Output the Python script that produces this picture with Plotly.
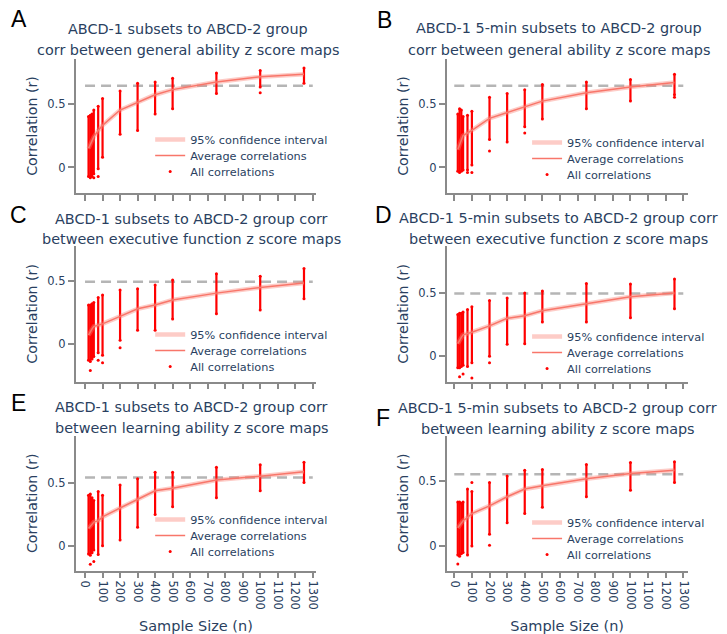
import plotly.graph_objects as go

W, H = 727, 634

# ---------------- data ----------------
sample_sizes = [20, 30, 40, 50, 75, 100, 200, 300, 400, 500, 750, 1000, 1250]
x_tick_vals = list(range(0, 1301, 100))
y_tick_vals = [0, 0.5]

panel_letters = ["A", "B", "C", "D", "E", "F"]
title_line1 = [
    "ABCD-1 subsets to ABCD-2 group",
    "ABCD-1 5-min subsets to ABCD-2 group",
    "ABCD-1 subsets to ABCD-2 group corr",
    "ABCD-1 5-min subsets to ABCD-2 group corr",
    "ABCD-1 subsets to ABCD-2 group corr",
    "ABCD-1 5-min subsets to ABCD-2 group corr",
]
title_line2 = [
    "corr between general ability z score maps",
    "corr between general ability z score maps",
    "between executive function z score maps",
    "between executive function z score maps",
    "between learning ability z score maps",
    "between learning ability z score maps",
]
legend_names = ["95% confidence interval", "Average correlations", "All correlations"]
y_title = "Correlation (r)"
x_title = "Sample Size (n)"

# Panel A
A_mean = [0.15, 0.18, 0.21, 0.24, 0.29, 0.33, 0.45, 0.51, 0.57, 0.61, 0.67, 0.71, 0.73]
A_hi = [0.40, 0.41, 0.42, 0.45, 0.48, 0.54, 0.60, 0.66, 0.67, 0.70, 0.74, 0.76, 0.78]
A_lo = [-0.07, -0.08, -0.07, -0.05, -0.01, 0.08, 0.26, 0.29, 0.42, 0.46, 0.58, 0.63, 0.66]
A_out_n = [75, 50, 1000]
A_out_r = [-0.07, -0.08, 0.585]
A_ref = 0.64

# Panel B
B_mean = [0.14, 0.18, 0.22, 0.25, 0.27, 0.29, 0.385, 0.43, 0.475, 0.52, 0.585, 0.63, 0.665]
B_hi = [0.42, 0.46, 0.45, 0.40, 0.41, 0.44, 0.55, 0.58, 0.61, 0.65, 0.67, 0.69, 0.73]
B_lo = [-0.03, -0.04, -0.03, -0.02, -0.02, 0.02, 0.22, 0.20, 0.32, 0.38, 0.46, 0.52, 0.57]
B_out_n = [200, 100, 400, 1250, 75]
B_out_r = [0.13, -0.04, 0.27, 0.55, -0.04]
B_ref = 0.64

# Panel C
C_mean = [0.07, 0.10, 0.12, 0.14, 0.15, 0.16, 0.22, 0.28, 0.31, 0.35, 0.405, 0.45, 0.485]
C_hi = [0.31, 0.31, 0.32, 0.33, 0.37, 0.39, 0.43, 0.44, 0.47, 0.51, 0.56, 0.54, 0.60]
C_lo = [-0.13, -0.14, -0.12, -0.10, -0.07, -0.09, 0.03, 0.11, 0.11, 0.20, 0.24, 0.27, 0.36]
C_out_n = [30, 75, 100, 200]
C_out_r = [-0.21, -0.13, -0.15, -0.03]
C_ref = 0.495

# Panel D
D_mean = [0.10, 0.13, 0.15, 0.17, 0.18, 0.19, 0.24, 0.30, 0.32, 0.36, 0.415, 0.47, 0.50]
D_hi = [0.33, 0.34, 0.34, 0.35, 0.37, 0.39, 0.44, 0.46, 0.50, 0.515, 0.575, 0.57, 0.61]
D_lo = [-0.09, -0.09, -0.08, -0.07, -0.08, -0.05, 0.00, 0.095, 0.10, 0.27, 0.27, 0.305, 0.375]
D_out_n = [30, 100, 200, 50]
D_out_r = [-0.16, -0.17, -0.05, -0.14]
D_ref = 0.495

# Panel E
E_mean = [0.14, 0.16, 0.18, 0.19, 0.20, 0.23, 0.30, 0.37, 0.435, 0.455, 0.52, 0.55, 0.585]
E_hi = [0.40, 0.41, 0.38, 0.36, 0.43, 0.40, 0.48, 0.53, 0.58, 0.58, 0.62, 0.64, 0.66]
E_lo = [-0.06, -0.07, -0.05, -0.03, -0.065, 0.005, 0.05, 0.15, 0.25, 0.31, 0.38, 0.435, 0.50]
E_out_n = [30, 50]
E_out_r = [-0.14, -0.12]
E_ref = 0.54

# Panel F
F_mean = [0.14, 0.16, 0.18, 0.195, 0.22, 0.25, 0.31, 0.38, 0.44, 0.465, 0.52, 0.56, 0.585]
F_hi = [0.34, 0.34, 0.33, 0.34, 0.44, 0.42, 0.49, 0.54, 0.585, 0.59, 0.63, 0.645, 0.65]
F_lo = [-0.07, -0.08, -0.06, -0.05, -0.07, 0.00, 0.09, 0.18, 0.25, 0.30, 0.38, 0.43, 0.49]
F_out_n = [20, 100, 200]
F_out_r = [-0.14, 0.49, 0.005]
F_ref = 0.555

panels = [
    (A_mean, A_hi, A_lo, A_out_n, A_out_r, A_ref),
    (B_mean, B_hi, B_lo, B_out_n, B_out_r, B_ref),
    (C_mean, C_hi, C_lo, C_out_n, C_out_r, C_ref),
    (D_mean, D_hi, D_lo, D_out_n, D_out_r, D_ref),
    (E_mean, E_hi, E_lo, E_out_n, E_out_r, E_ref),
    (F_mean, F_hi, F_lo, F_out_n, F_out_r, F_ref),
]

# ---------------- layout geometry (pixels) ----------------
col_px = [(76, 318), (449, 691.5)]
row_px = [(59, 193), (246, 381.7), (436, 570.5)]
x_ranges = [[-54, 1320], [-44, 1325]]
y_ranges = [[-0.2, 0.85], [-0.2, 0.85], [-0.3, 0.78], [-0.2, 0.87], [-0.19, 0.865], [-0.19, 0.85]]
title_pos = [(189, 29, 50), (562, 28, 50), (193, 219, 239), (561.5, 218, 239), (193, 407, 428), (561, 408, 429)]
letter_pos = [(19, 19), (387, 20), (19, 215), (386, 215), (19, 403), (385, 418)]
legend_pos = [(191, 140), (570, 143), (191, 335), (570, 337), (191, 520), (570, 523)]
LEG_STEP = 16


def px_x(p):
    return p / W


def px_y(p):
    return 1 - p / H


FONT = "DejaVu Sans"
TXT = "#2a3f5f"
AX = "#8a8a8a"
RED = "#ff0000"

fig = go.Figure()
layout = dict(
    width=W, height=H, margin=dict(l=0, r=0, t=0, b=0),
    paper_bgcolor="white", plot_bgcolor="white",
    font=dict(family=FONT, color=TXT),
    showlegend=True,
)
annotations = []

for i, (mean, hi, lo, out_n, out_r, ref) in enumerate(panels):
    r, c = divmod(i, 2)
    k = "" if i == 0 else str(i + 1)
    xa, ya = "x" + k, "y" + k

    x0p, x1p = col_px[c]
    y0p, y1p = row_px[r]

    layout["xaxis" + k] = dict(
        domain=[px_x(x0p), px_x(x1p)], range=x_ranges[c], anchor=ya,
        showgrid=False, zeroline=False, showline=True, linecolor=AX, linewidth=1.5,
        ticks="outside", ticklen=6, tickwidth=1.5, tickcolor=AX,
        tickmode="array", tickvals=x_tick_vals, ticktext=[str(v) for v in x_tick_vals],
        showticklabels=(r == 2), tickangle=90,
        tickfont=dict(size=11.5, color=TXT, family=FONT),
        title=dict(text=x_title if r == 2 else "", font=dict(size=14.5, color=TXT, family=FONT), standoff=13),
    )
    layout["yaxis" + k] = dict(
        domain=[px_y(y1p), px_y(y0p)], range=y_ranges[i], anchor=xa,
        showgrid=False, zeroline=False, showline=True, linecolor=AX, linewidth=1.5,
        ticks="outside", ticklen=6, tickwidth=1.5, tickcolor=AX,
        tickmode="array", tickvals=y_tick_vals, ticktext=["0", "0.5"],
        tickfont=dict(size=11.5, color=TXT, family=FONT),
        title=dict(text=y_title, font=dict(size=14.2, color=TXT, family=FONT), standoff=6),
    )

    # one legend box per entry so the entries can sit 16 px apart
    lx, ly = legend_pos[i]
    leg_ids = []
    for j in range(3):
        n_id = 3 * i + j + 1
        lid = "legend" if n_id == 1 else "legend%d" % n_id
        leg_ids.append(lid)
        layout[lid] = dict(
            x=px_x(lx - 40), y=px_y(ly + LEG_STEP * j - 15), xanchor="left", yanchor="top",
            bgcolor="rgba(0,0,0,0)", borderwidth=0, itemwidth=30,
            font=dict(size=11.3, color=TXT, family=FONT),
        )

    # reference (dashed) line
    fig.add_trace(go.Scatter(
        x=[0, 1300], y=[ref, ref], mode="lines", xaxis=xa, yaxis=ya,
        line=dict(color="#b5b5b5", width=2.5, dash="10px,6px"),
        showlegend=False, hoverinfo="skip",
    ))
    # columns of all correlations (dense ranges)
    cx, cy = [], []
    for n, l, h in zip(sample_sizes, lo, hi):
        cx += [n, n, None]
        cy += [l, h, None]
    fig.add_trace(go.Scatter(
        x=cx, y=cy, mode="lines", xaxis=xa, yaxis=ya,
        line=dict(color=RED, width=2.2), showlegend=False, hoverinfo="skip",
    ))
    # individual points (range ends and isolated values)
    fig.add_trace(go.Scatter(
        x=sample_sizes + sample_sizes + out_n, y=lo + hi + out_r, mode="markers",
        xaxis=xa, yaxis=ya, marker=dict(color=RED, size=3),
        name=legend_names[2], legend=leg_ids[2],
    ))
    # confidence interval band
    fig.add_trace(go.Scatter(
        x=sample_sizes, y=mean, mode="lines", xaxis=xa, yaxis=ya,
        line=dict(color="rgba(250,128,114,0.4)", width=4.5),
        name=legend_names[0], legend=leg_ids[0],
    ))
    # average correlations
    fig.add_trace(go.Scatter(
        x=sample_sizes, y=mean, mode="lines", xaxis=xa, yaxis=ya,
        line=dict(color="rgb(248,118,106)", width=1.5),
        name=legend_names[1], legend=leg_ids[1],
    ))

    # titles
    tx, ty1, ty2 = title_pos[i]
    for txt, ty in ((title_line1[i], ty1), (title_line2[i], ty2)):
        annotations.append(dict(
            text=txt, x=px_x(tx), y=px_y(ty), xref="paper", yref="paper",
            xanchor="center", yanchor="middle", showarrow=False,
            font=dict(size=14.4, color=TXT, family=FONT),
        ))
    lx_, ly_ = letter_pos[i]
    annotations.append(dict(
        text=panel_letters[i], x=px_x(lx_), y=px_y(ly_), xref="paper", yref="paper",
        xanchor="center", yanchor="middle", showarrow=False,
        font=dict(size=23, color="black", family="Liberation Sans"),
    ))

layout["annotations"] = annotations
fig.update_layout(**layout)
fig.write_html("out.html")
